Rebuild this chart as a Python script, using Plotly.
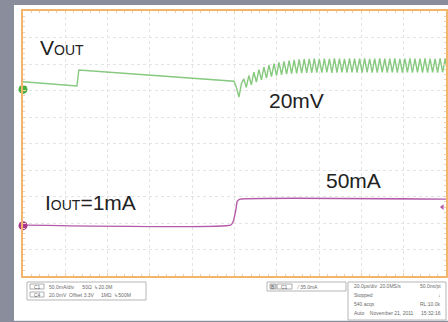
import numpy as np
import plotly.graph_objects as go

W, H = 448, 322

# Scope settings
T_DIV = 20.0          # us/div, 10 horizontal divisions
VOUT_SCALE = 20.0     # mV/div
VOUT_ZERO = 2.04      # screen position (div) of the Vout reference marker
IOUT_SCALE = 50.0     # mA/div
IOUT_ZERO = -3.10     # screen position (div) of the Iout reference marker
TRIG_LEVEL = 35.0     # mA

# Vout deviation (mV) up to the load step
vout_t = [0.0, 25.5, 26.4, 95.0, 99.8, 101.0, 102.1, 103.3]
vout_mv = [5.8, 2.6, 14.7, 7.1, 6.2, 1.0, -5.8, 4.5]

# Vout ripple after the load step: alternating peaks and troughs (mV)
ripple_t0 = 104.4
ripple_half_period = 1.19
ripple_peaks = [8.0, 10.5, 13.0, 15.0, 16.8, 18.3, 19.5, 20.4, 21.2, 21.8,
                22.3, 22.6, 22.9, 23.0, 23.2, 23.1, 23.3, 23.0, 23.4, 23.2,
                23.1, 23.5, 23.3, 23.2, 23.4, 23.1, 23.3, 23.5, 23.2, 23.3,
                23.4, 23.1, 23.2, 23.5, 23.3, 23.2, 23.4, 23.3, 23.1, 23.4, 23.3]
ripple_troughs = [1.5, 3.5, 5.6, 7.2, 8.5, 9.6, 10.4, 11.0, 11.5, 11.9,
                  12.2, 12.4, 12.5, 12.6, 12.7, 12.6, 12.8, 12.5, 12.7, 12.8,
                  12.6, 12.9, 12.7, 12.6, 12.8, 12.7, 12.6, 12.9, 12.7, 12.8,
                  12.6, 12.7, 12.9, 12.6, 12.8, 12.7, 12.6, 12.8, 12.7, 12.9, 12.7]

# Output current (mA)
iout_t = [0.0, 98.2, 99.4, 100.6, 101.3, 102.6, 200.0]
iout_ma = [1.0, 1.0, 8.0, 29.0, 46.0, 50.0, 50.0]

# Readout boxes
ch_rows = ["50.0mA/div      50Ω  ↳20.0M", "20.0mV  Offset 3.3V     1MΩ  ↳500M"]
ch_names = ["C1", "C4"]
trig_text = "35.0mA"
acq_rows = [("20.0µs/div  20.0MS/s", "50.0ns/pt"),
            ("Stopped", "↓"),
            ("540 acqs", "RL:10.0k"),
            ("Auto    November 21, 2011", "15:32:16")]

GREEN = "#86c97f"
MAGENTA = "#b35aa8"
ORANGE = "#f2b56b"
FRAME = "#8a8e9c"

ripple_mv = np.column_stack([ripple_peaks, ripple_troughs]).ravel()
ripple_t = ripple_t0 + ripple_half_period * np.arange(len(ripple_mv))

v_t = np.concatenate([vout_t, ripple_t])
v_div = VOUT_ZERO + np.concatenate([vout_mv, ripple_mv]) / VOUT_SCALE
i_div = IOUT_ZERO + np.array(iout_ma) / IOUT_SCALE

fig = go.Figure()
fig.add_trace(go.Scatter(x=v_t, y=v_div, mode="lines",
                         line=dict(color=GREEN, width=1.4), hoverinfo="skip"))
fig.add_trace(go.Scatter(x=iout_t, y=i_div, mode="lines",
                         line=dict(color=MAGENTA, width=1.4, shape="spline", smoothing=0.4),
                         hoverinfo="skip"))
# channel reference markers and trigger level marker
fig.add_trace(go.Scatter(x=[0, 0], y=[VOUT_ZERO, IOUT_ZERO], mode="markers",
                         marker=dict(color=["#4caf3f", "#a8388f"], size=9, symbol="circle"),
                         cliponaxis=False, hoverinfo="skip"))
fig.add_trace(go.Scatter(x=[198.3], y=[IOUT_ZERO + TRIG_LEVEL / IOUT_SCALE], mode="markers",
                         marker=dict(color=MAGENTA, size=5, symbol="triangle-left"),
                         cliponaxis=False, hoverinfo="skip"))


def px(xp):
    return xp / W


def py(yp):
    return 1 - yp / H


shapes = [
    dict(type="rect", xref="paper", yref="paper", x0=0, x1=px(14), y0=0, y1=1,
         fillcolor=FRAME, line_width=0, layer="below"),
    dict(type="rect", xref="paper", yref="paper", x0=0, x1=1, y0=py(5), y1=1,
         fillcolor=FRAME, line_width=0, layer="below"),
    dict(type="rect", xref="paper", yref="paper", x0=0, x1=1, y0=0, y1=py(320.8),
         fillcolor=FRAME, line_width=0, layer="below"),
]
box_line = dict(color="#b5b5b5", width=1)
for x0, x1, y0, y1 in [(27, 146, 282, 300), (267, 346, 282, 291), (348, 446, 282, 320)]:
    shapes.append(dict(type="rect", xref="paper", yref="paper", x0=px(x0), x1=px(x1),
                       y0=py(y1), y1=py(y0), line=box_line, fillcolor="white"))
for yc in (286.5, 294.5):
    shapes.append(dict(type="rect", xref="paper", yref="paper", x0=px(30), x1=px(44),
                       y0=py(yc + 2.5), y1=py(yc - 2.5), line=dict(color="#9a9a9a", width=0.8)))
shapes.append(dict(type="rect", xref="paper", yref="paper", x0=px(270), x1=px(276),
                   y0=py(289), y1=py(284), line=dict(color="#9a9a9a", width=0.8), fillcolor="#d9d9d9"))
shapes.append(dict(type="rect", xref="paper", yref="paper", x0=px(277), x1=px(292),
                   y0=py(289), y1=py(284), line=dict(color="#9a9a9a", width=0.8)))

small = dict(family="Liberation Sans, Arial", size=5, color="#6a6a6a")
ann = []
for name, row, yc in zip(ch_names, ch_rows, (286.5, 294.5)):
    ann.append(dict(xref="paper", yref="paper", x=px(37), y=py(yc), text=name, showarrow=False,
                    font=small, xanchor="center", yanchor="middle"))
    ann.append(dict(xref="paper", yref="paper", x=px(47), y=py(yc), text=row, showarrow=False,
                    font=small, xanchor="left", yanchor="middle"))
ann.append(dict(xref="paper", yref="paper", x=px(273), y=py(286.5), text="B", showarrow=False,
                font=small, xanchor="center", yanchor="middle"))
ann.append(dict(xref="paper", yref="paper", x=px(284.5), y=py(286.5), text="C1", showarrow=False,
                font=small, xanchor="center", yanchor="middle"))
ann.append(dict(xref="paper", yref="paper", x=px(294), y=py(286.5), text="⁄ " + trig_text,
                showarrow=False, font=small, xanchor="left", yanchor="middle"))
for (left, right), yc in zip(acq_rows, (286, 295, 304, 313)):
    ann.append(dict(xref="paper", yref="paper", x=px(352), y=py(yc), text=left, showarrow=False,
                    font=small, xanchor="left", yanchor="middle"))
    ann.append(dict(xref="paper", yref="paper", x=px(443), y=py(yc), text=right, showarrow=False,
                    font=small, xanchor="right", yanchor="middle"))

big = dict(family="Liberation Sans, Arial", size=21, color="#222222")
sub = '<span style="font-size:14px">OUT</span>'
ann += [
    dict(x=7.2, y=3.62, text="V" + sub, showarrow=False, font=big, xanchor="left", yanchor="middle"),
    dict(x=115.4, y=1.64, text="20mV", showarrow=False, font=big, xanchor="left", yanchor="middle"),
    dict(x=142.3, y=-1.38, text="50mA", showarrow=False, font=big, xanchor="left", yanchor="middle"),
    dict(x=9.5, y=-2.21, text="I" + sub + "=1mA", showarrow=False, font=big, xanchor="left",
         yanchor="middle"),
]

axis_common = dict(showline=True, linecolor=ORANGE, linewidth=1.5, mirror="ticks",
                   showgrid=True, gridcolor="#e4e4e4", griddash="dot", gridwidth=1,
                   zeroline=False, showticklabels=False, ticks="inside", ticklen=3,
                   tickcolor="#ecd2b0", fixedrange=True)
fig.update_layout(
    width=W, height=H, margin=dict(l=0, r=0, t=0, b=0),
    paper_bgcolor="white", plot_bgcolor="white", showlegend=False,
    xaxis=dict(range=[0, 10 * T_DIV], domain=[px(23), px(446)], dtick=T_DIV, tick0=0,
               minor=dict(dtick=T_DIV / 5, ticks="inside", ticklen=2, tickcolor="#ecd2b0",
                          showgrid=False),
               **axis_common),
    yaxis=dict(range=[-5, 5], domain=[py(276), py(11)], dtick=1, tick0=0,
               minor=dict(dtick=0.2, ticks="inside", ticklen=2, tickcolor="#ecd2b0",
                          showgrid=False),
               **axis_common),
    shapes=shapes, annotations=ann,
)

fig.write_html("out.html")
